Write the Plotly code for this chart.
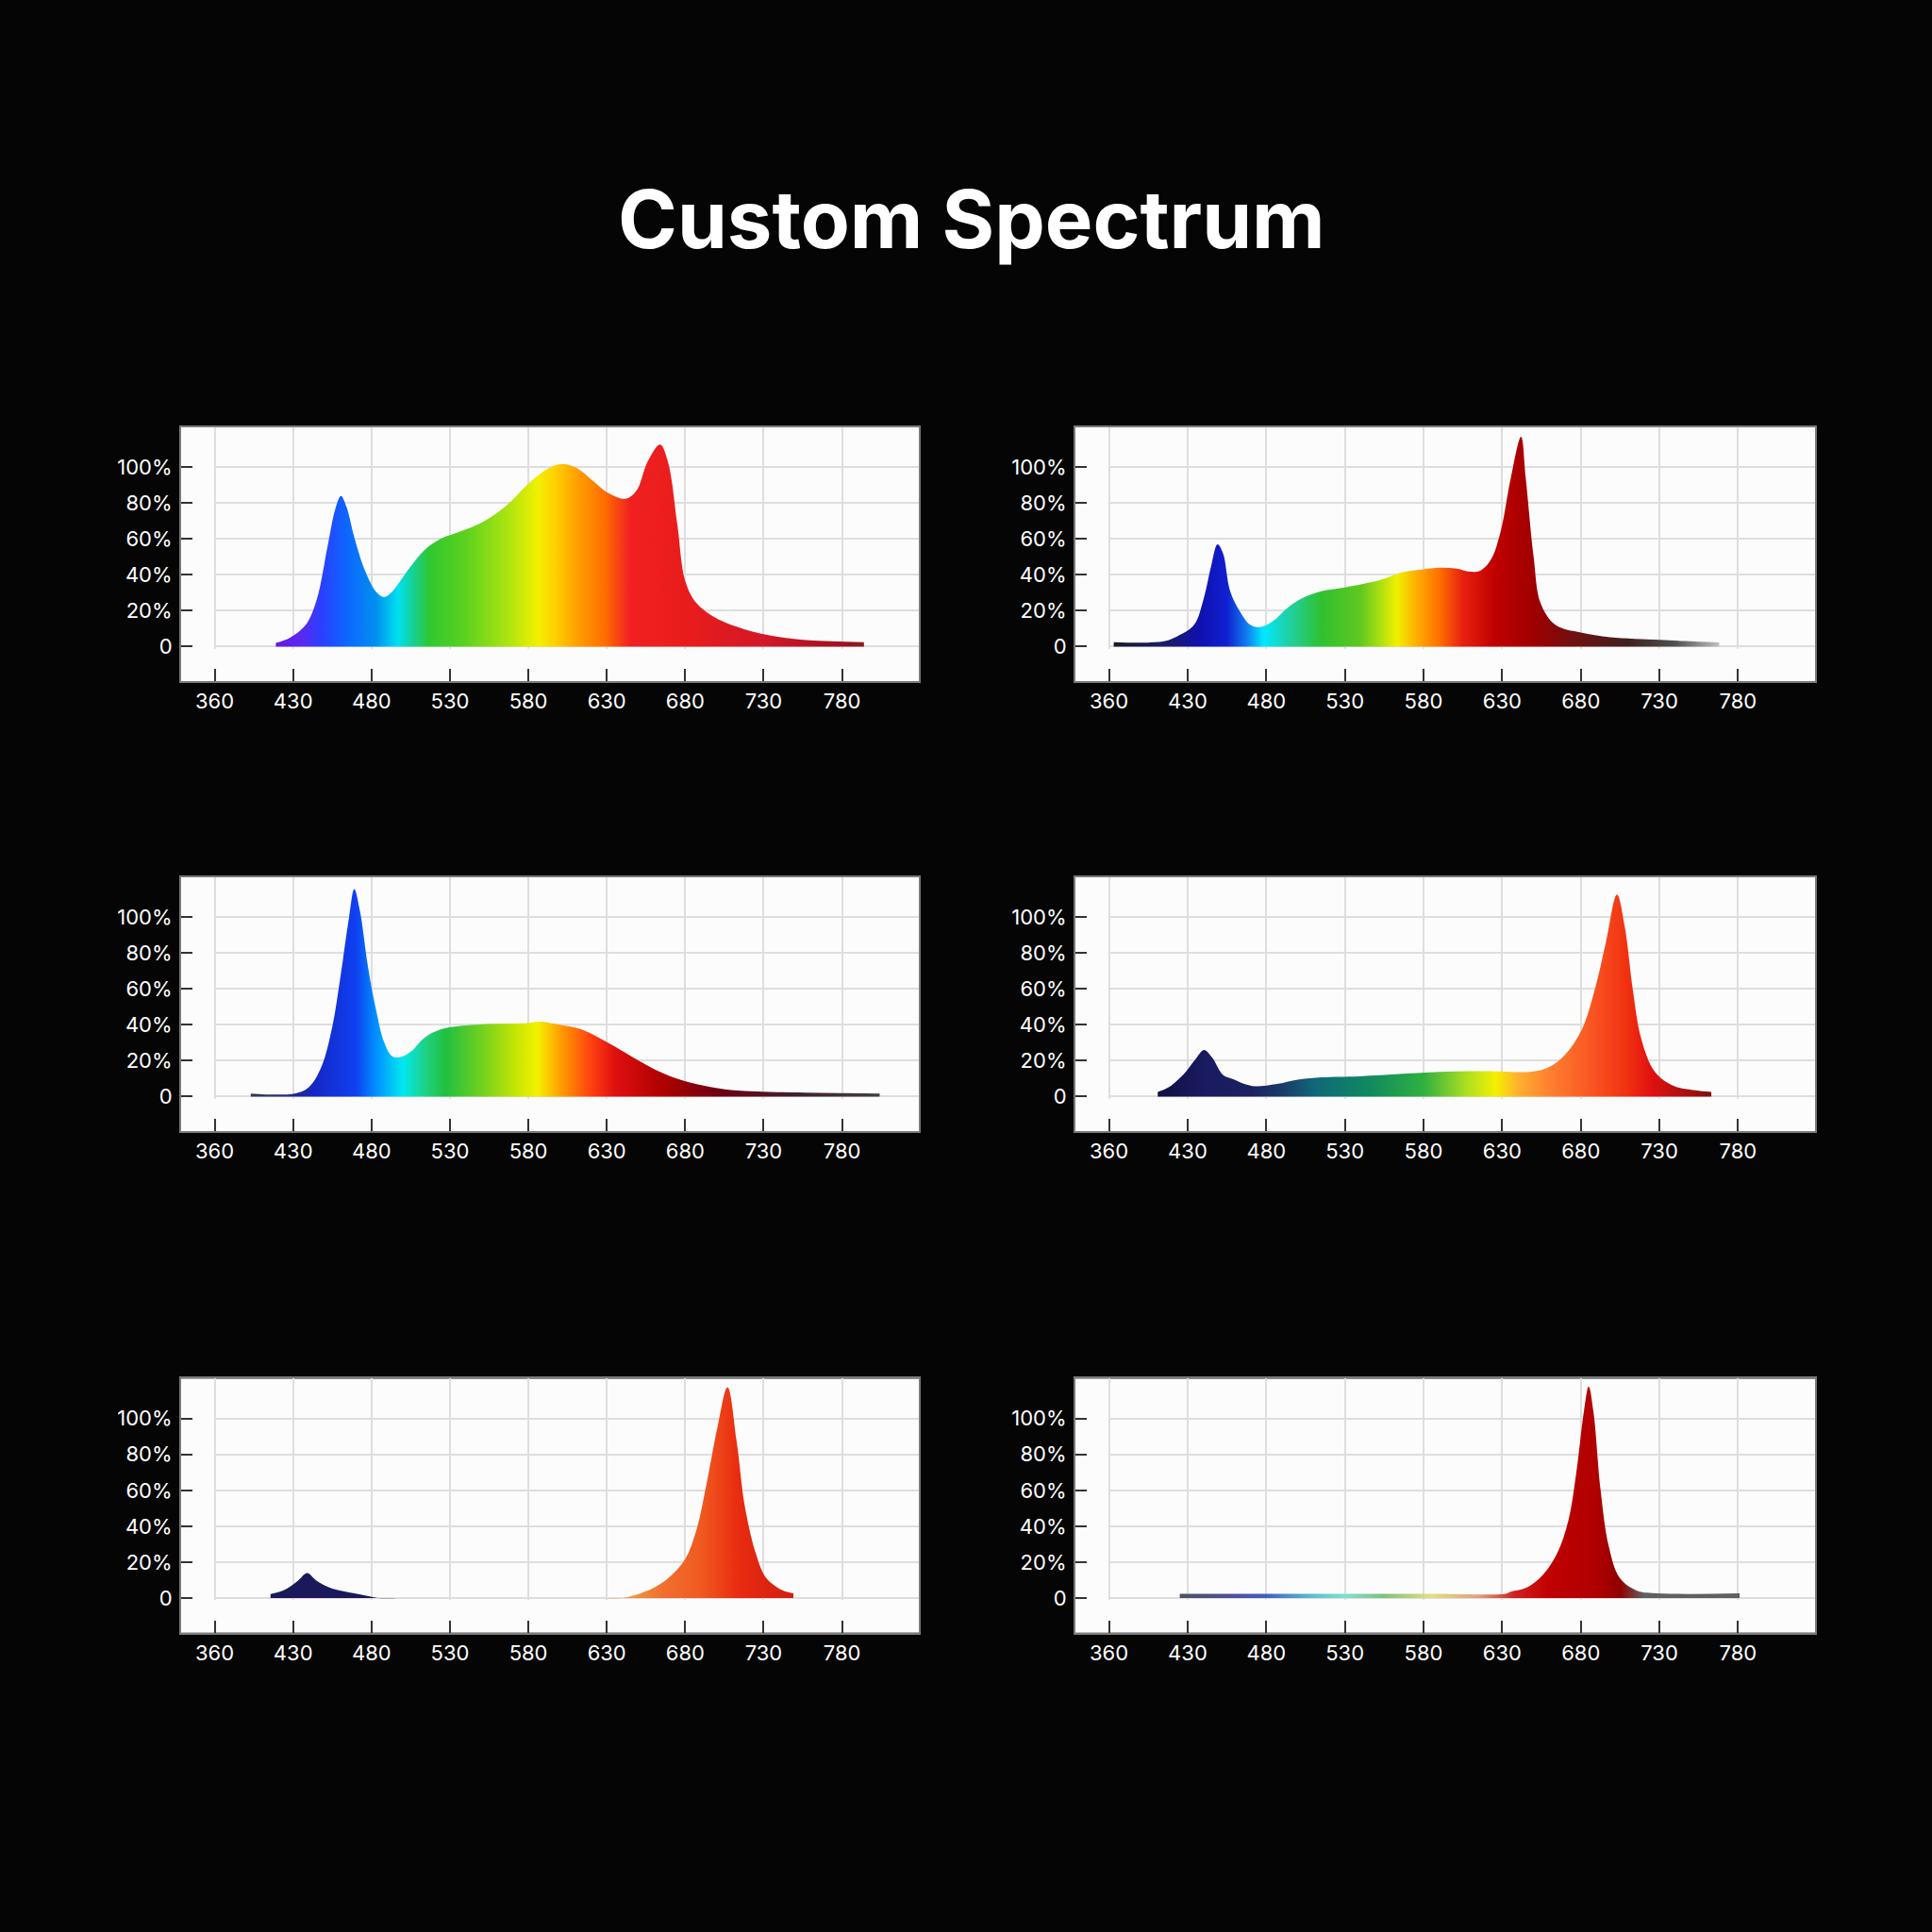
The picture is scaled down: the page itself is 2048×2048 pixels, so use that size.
import plotly.graph_objects as go

# x axis ticks (evenly spaced on the chart even though the first label is 360)
tick_pos = [380, 430, 480, 530, 580, 630, 680, 730, 780]
tick_text = ["360", "430", "480", "530", "580", "630", "680", "730", "780"]
y_ticks = [0, 20, 40, 60, 80, 100]
y_text = ["0", "20%", "40%", "60%", "80%", "100%"]

# panel 1 - full spectrum
p1_nm = [419, 428, 438, 445, 452, 457, 460.5, 464, 469, 476, 483, 488, 493, 504, 514, 524,
         538, 552, 566, 580, 593, 602, 611, 621, 631, 642, 649, 656, 664, 669, 675, 680,
         687, 700, 718, 738, 759, 794]
p1_pct = [2, 5, 12, 26, 56, 77, 84, 78, 61, 42, 30.5, 27.6, 30.5, 43.6, 54, 60,
          64.6, 70, 78.5, 90.8, 99.5, 101.7, 99.5, 92.5, 85.5, 82.4, 87, 103, 112.6, 103, 68, 36.6,
          24.4, 15.7, 9.6, 5.6, 3.5, 2.5]

# panel 2 - blue + full + deep red
p2_nm = [383, 415, 424, 434, 440, 445, 449, 452.5, 457, 463.6, 470, 476, 484, 493.6, 503,
         515.6, 528, 541, 553.5, 566, 579, 591, 601, 610, 616.6, 623, 629, 635.5, 642, 645,
         650, 654.5, 664, 680, 698.6, 730, 746, 768]
p2_pct = [2.5, 3, 6, 12, 26, 45, 57, 52, 31, 19, 12, 10.8, 14, 21.7, 27,
          31, 32.7, 34.8, 37.4, 41.4, 43, 44, 43.5, 41.7, 42.6, 48.7, 64, 94, 117, 94,
          50, 24, 12, 7.8, 5.2, 3.8, 3.1, 2.3]

# panel 3 - blue heavy
p3_nm = [403, 431, 440, 448, 455, 460.5, 465.7, 469, 472.6, 477.8, 483, 488, 493, 498.5,
         505, 514, 524, 538, 559, 580, 587, 600, 614, 631.5, 648.7, 666, 683, 700.5, 718,
         752, 804]
p3_pct = [1.7, 1.7, 5.2, 16.5, 39, 68.7, 100, 115.6, 103.5, 72, 47.8, 30.4, 22.6, 22,
          25, 33, 37.4, 39.5, 40.5, 41, 41.7, 40, 37.4, 29.6, 20.9, 13, 7.8, 4.7, 3.1,
          2.3, 1.7]

# panel 4 - far red heavy
p4_nm = [411, 418, 428, 435, 440.4, 445.6, 452.5, 459.4, 466, 473, 487, 501, 515, 539,
         566.5, 594, 622, 649, 660, 670, 680.5, 689, 696, 703, 708, 713, 718.5, 727, 739,
         753, 763]
p4_pct = [2.6, 5.2, 13, 20.8, 26, 21.7, 12, 9.5, 7, 5.7, 7, 9.5, 10.7, 11.3,
          12.7, 13.9, 14.2, 13.9, 16.5, 23.4, 37, 60, 86, 112.6, 94.5, 60, 32, 13.9, 6,
          3.5, 2.6]

# panel 5 - blue + far red only, nothing in between
p5_nm = [415.6, 424, 433, 439, 445, 455, 469, 478, 484, 500, 620, 640, 646, 652, 659, 669.5,
         680, 687, 693.6, 700.5, 707, 713, 718, 725, 731.6, 742, 749]
p5_pct = [2.3, 4.3, 9.6, 13.9, 9.6, 5.2, 2.6, 1, 0, 0, 0, 0, 1.2, 2.8, 5.2, 11.3,
          21.7, 37.4, 63.5, 94.8, 117.4, 86, 51.3, 25, 11.3, 4.3, 2.6]

# panel 6 - deep red only
p6_nm = [425, 500, 580, 632, 635.6, 646, 656, 665, 672, 677, 682, 685, 688, 692.6, 697.8,
         704.7, 715, 725.5, 781]
p6_pct = [2.4, 2.4, 2.4, 2.4, 3.5, 6, 13, 25, 42.8, 69, 104, 117.8, 104, 60, 28.8,
          11.3, 4.4, 2.8, 2.6]

# fill colours along the wavelength axis for each panel
p1_colors = [(419, "#6a18e0"), (435, "#5a28f0"), (448, "#2a40ff"), (462, "#1060ff"), (483, "#0090f0"),
             (497, "#00e0f0"), (507, "#18d090"), (517, "#30c830"), (538, "#58d020"), (566, "#a8e410"),
             (586, "#f2f000"), (597, "#ffd000"), (611, "#ffa000"), (628, "#ff7000"), (645, "#f02020"),
             (683, "#e81c1c"), (735, "#d01828"), (780, "#a01020"), (794, "#802020")]
p2_colors = [(383, "#1a1a2a"), (420, "#1a1a70"), (438, "#1010b0"), (455, "#1020d0"), (468, "#1080f0"),
             (478, "#00e8ff"), (495, "#20d0a0"), (515, "#30c030"), (540, "#60c820"), (553, "#b0e010"),
             (563, "#f0f000"), (575, "#ffb000"), (590, "#ff7000"), (605, "#e82010"), (625, "#c00000"),
             (650, "#a00000"), (675, "#701010"), (710, "#402020"), (740, "#505050"), (768, "#c0c0c0")]
p3_colors = [(403, "#3a3a4a"), (430, "#202890"), (445, "#1428c8"), (470, "#1040f0"), (483, "#0090ff"),
             (500, "#00e8f0"), (515, "#20d080"), (527, "#20c040"), (550, "#70d020"), (575, "#d0e800"),
             (586, "#f5f000"), (600, "#ffa000"), (620, "#ff4010"), (635, "#e01010"), (665, "#b00000"),
             (700, "#700010"), (750, "#402030"), (804, "#404040")]
p4_colors = [(411, "#101040"), (440, "#1a1a60"), (470, "#1a2060"), (490, "#183a6a"), (511, "#106878"),
             (546, "#108a60"), (580, "#30b040"), (608, "#b0e020"), (626, "#f5f000"), (640, "#ffb030"),
             (660, "#ff8030"), (690, "#f85020"), (710, "#f03010"), (725, "#e01010"), (763, "#801010")]
p5_colors = [(415.6, "#1a1a5a"), (480, "#1a1a5a"), (640, "#f5a040"), (665, "#f07030"), (690, "#f05a20"),
             (715, "#e82a10"), (749, "#d02010")]
p6_colors = [(425, "#505060"), (460, "#5050a0"), (480, "#4060c0"), (510, "#60c0d0"), (530, "#80e0d0"),
             (555, "#80c080"), (585, "#e0e080"), (615, "#e0a080"), (638, "#d02020"), (660, "#c00000"),
             (690, "#b00000"), (705, "#900000"), (720, "#606060"), (781, "#606060")]

panels = [
    (p1_nm, p1_pct, p1_colors),
    (p2_nm, p2_pct, p2_colors),
    (p3_nm, p3_pct, p3_colors),
    (p4_nm, p4_pct, p4_colors),
    (p5_nm, p5_pct, p5_colors),
    (p6_nm, p6_pct, p6_colors),
]

x_range = [358.6, 829]
y_range = [-19.2, 122.2]
x_domains = [[0.09375, 0.4756], [0.5566, 0.9395]]
y_domains = [[0.6475, 0.7788], [0.4146, 0.5459], [0.1550, 0.2864]]

fig = go.Figure()
layout = dict(
    width=2048, height=2048,
    margin=dict(l=0, r=0, t=0, b=0),
    paper_bgcolor="#050505",
    plot_bgcolor="#fcfcfc",
    showlegend=False,
    shapes=[],
)

for i, (nm, pct, cols) in enumerate(panels):
    n = i + 1
    sfx = "" if n == 1 else str(n)
    lo, hi = cols[0][0], cols[-1][0]
    scale = [[(p - lo) / (hi - lo), c] for p, c in cols]
    fig.add_trace(go.Scatter(
        x=nm, y=pct, mode="lines",
        line=dict(width=0, shape="spline", smoothing=1.0),
        fill="tozeroy",
        fillgradient=dict(type="horizontal", colorscale=scale, start=lo, stop=hi),
        xaxis="x" + sfx, yaxis="y" + sfx, hoverinfo="skip",
    ))
    layout["xaxis" + sfx] = dict(
        domain=x_domains[i % 2], anchor="y" + sfx, range=x_range,
        tickvals=tick_pos, ticktext=tick_text,
        ticks="inside", ticklen=13, tickwidth=2, tickcolor="#333333",
        tickfont=dict(color="#ffffff", size=22, family="Inter"),
        ticklabelstandoff=1,
        showgrid=True, gridcolor="#dedede", gridwidth=2,
        showline=True, linecolor="#7a7a7a", linewidth=2, mirror=True,
        zeroline=False, fixedrange=True,
    )
    layout["yaxis" + sfx] = dict(
        domain=y_domains[i // 2], anchor="x" + sfx, range=y_range,
        tickvals=y_ticks, ticktext=y_text,
        ticks="inside", ticklen=12, tickwidth=2, tickcolor="#333333",
        tickfont=dict(color="#ffffff", size=22, family="Inter"),
        ticklabelstandoff=3,
        showgrid=True, gridcolor="#dedede", gridwidth=2,
        showline=True, linecolor="#7a7a7a", linewidth=2, mirror=True,
        zeroline=False, fixedrange=True,
    )
    # blank the grid in the margin strips left of the first tick and under zero
    layout["shapes"].append(dict(type="rect", xref="x" + sfx, yref="y" + sfx, layer="between",
                                 x0=x_range[0], x1=tick_pos[0] - 0.5, y0=y_range[0], y1=y_range[1],
                                 fillcolor="#fcfcfc", line=dict(width=0)))
    layout["shapes"].append(dict(type="rect", xref="x" + sfx, yref="y" + sfx, layer="between",
                                 x0=x_range[0], x1=x_range[1], y0=y_range[0], y1=-1.2,
                                 fillcolor="#fcfcfc", line=dict(width=0)))

layout["annotations"] = [dict(
    text="<b>Custom Spectrum</b>", x=0.503, y=0.8867, xref="paper", yref="paper",
    xanchor="center", yanchor="middle", showarrow=False,
    font=dict(color="#ffffff", size=85, family="Inter"),
)]

fig.update_layout(**layout)
fig.write_html("out.html", config={"displayModeBar": False},
               post_script="document.body.style.margin='0';document.body.style.background='#050505';")
